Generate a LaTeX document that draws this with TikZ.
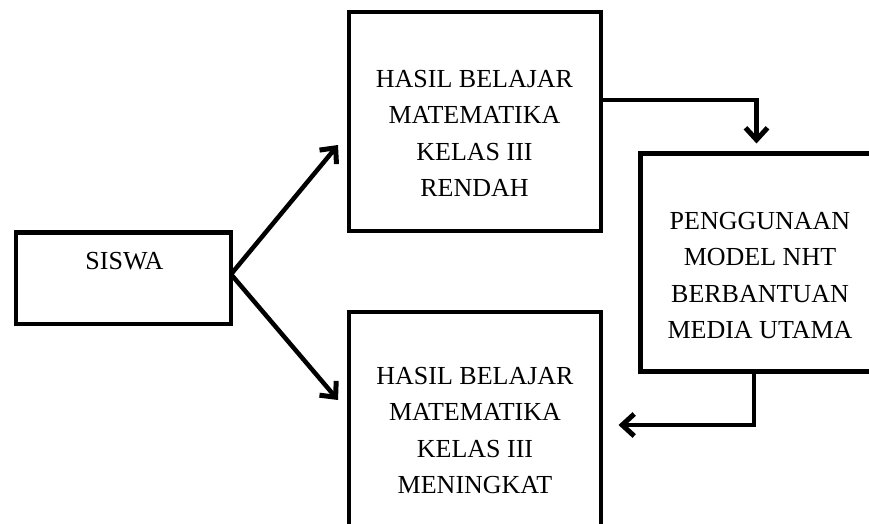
\documentclass[tikz,border=0pt]{standalone}
\usepackage{fontspec}
\setmainfont{Liberation Serif}
\usetikzlibrary{arrows.meta}
\begin{document}
\begin{tikzpicture}[x=1pt,y=-1pt,
  boxstyle/.style={draw, line width=4.5pt, inner sep=0pt, outer sep=0pt, anchor=center},
  txtstyle/.style={font=\fontsize{26}{36.5}\selectfont, align=center, inner sep=0pt, outer sep=0pt, anchor=north},
  conn/.style={line width=4.5pt, -{Straight Barb[length=12pt,width=22pt,line width=5pt]}}
]
\useasboundingbox (0,0) rectangle (869,524);
\clip (0,0) rectangle (869,524);
% boxes
\node[boxstyle, minimum width=215pt, minimum height=91.5pt] (siswa) at (123.5,278.25) {};
\node[boxstyle, minimum width=252pt, minimum height=219pt] (top) at (475,121.5) {};
\node[boxstyle, minimum width=252pt, minimum height=228pt] (bottom) at (475,426) {};
\node[boxstyle, minimum width=249.5pt, minimum height=218pt] (right) at (765.25,262.5) {};
% texts
\node[txtstyle] (siswatxt) at (124.5,252) {SISWA};
\node[txtstyle] (toptxt) at (474.5,70) {HASIL BELAJAR\\MATEMATIKA\\KELAS III\\RENDAH};
\node[txtstyle] (bottomtxt) at (475,367) {HASIL BELAJAR\\MATEMATIKA\\KELAS III\\MENINGKAT};
\node[txtstyle] (righttxt) at (760,212) {PENGGUNAAN\\MODEL NHT\\BERBANTUAN\\MEDIA UTAMA};
% connector ends
\coordinate (tA) at (338,145);
\coordinate (tB) at (338,400);
\coordinate (tC) at (756.5,143.5);
\coordinate (tD) at (618.5,425);
\coordinate (yA) at (0,100);
\coordinate (xD) at (754,0);
% connectors
\draw[conn] ([yshift=4pt]siswa.east) -- (tA);
\draw[conn] ([yshift=4pt]siswa.east) -- (tB);
\draw[conn] (top.east |- yA) -| (tC);
\draw[conn] (right.south -| xD) |- (tD);
\end{tikzpicture}
\end{document}
